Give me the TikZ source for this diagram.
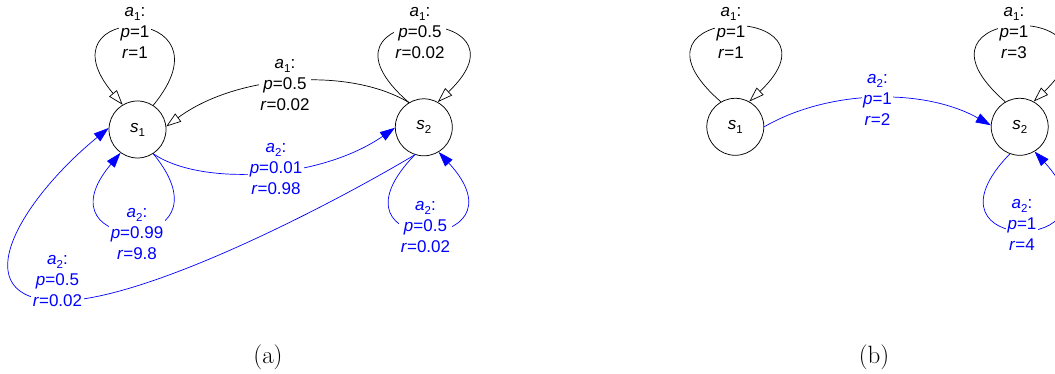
\documentclass[tikz,border=0pt]{standalone}
\usepackage{fontspec}
\newfontfamily\arialf{Liberation Sans}
\usetikzlibrary{arrows.meta}
\newcommand\mysub[1]{\raisebox{-4pt}{\fontsize{11.5}{12}\selectfont #1}}
\begin{document}
\begin{tikzpicture}[x=1pt,y=-1pt,
  state/.style={circle,draw=black,line width=0.75pt,minimum size=57pt,inner sep=0pt,font=\arialf\fontsize{17}{20}\selectfont},
  lab/.style={fill=white,inner sep=1.5pt,align=center,font=\arialf\fontsize{17}{21}\selectfont},
  blab/.style={lab,text=blue},
  aone/.style={draw=black,line width=0.7pt,-{Triangle[fill=white,length=15pt,width=10pt]}},
  atwo/.style={draw=blue,line width=0.7pt,-{Triangle[fill=blue,length=15pt,width=10pt]}},
  captext/.style={font=\fontsize{25}{30}\selectfont}]
\useasboundingbox (0,0) rectangle (1055,374);
\clip (0,0) rectangle (1055,374);
% states
\node[state] (s1a) at (137.5,129.5) {\textit{s}\mysub{1}};
\node[state] (s2a) at (423.8,127.3) {\textit{s}\mysub{2}};
\node[state] (s1b) at (735.3,126.8) {\textit{s}\mysub{1}};
\node[state] (s2b) at (1019.7,126.8) {\textit{s}\mysub{2}};
% (a) edges
\draw[aone] (s1a.57) .. controls +(85,-103) and +(-87,-103) .. (s1a.121);
\draw[aone] (s2a.121) .. controls +(-115,-100) and +(105,-100) .. (s2a.61);
\draw[aone] (s2a.121) .. controls +(-60,-36) and +(70,-52) .. (s1a.6);
\draw[atwo] (s1a.-57) .. controls +(48,33) and +(-75,52) .. (s2a.181);
\draw[atwo] (s1a.-57) .. controls +(85,103) and +(-87,103) .. (s1a.-126);
\draw[atwo] (s2a.-108) .. controls +(-100,103) and +(95,103) .. (s2a.-59);
\coordinate (m) at (60,301);
\draw[atwo] (s2a.-108) .. controls +(-75,45) and +(90,-1) .. (m) .. controls +(-100,-1) and +(-88,72) .. (s1a.177);
% (b) edges
\draw[aone] (s1b.120) .. controls +(-115,-100) and +(105,-100) .. (s1b.61);
\draw[aone] (s2b.120) .. controls +(-115,-100) and +(105,-100) .. (s2b.61);
\draw[atwo] (s1b.0) .. controls +(66,-38) and +(-66,-37) .. (s2b.177);
\draw[atwo] (s2b.-110) .. controls +(-100,103) and +(95,103) .. (s2b.-59);
% labels
\node[lab] (l1) at (135,32.6) {\textit{a}\mysub{1}:\\\textit{p}=1\\\textit{r}=1};
\node[lab] (l2) at (420,32.6) {\textit{a}\mysub{1}:\\\textit{p}=0.5\\\textit{r}=0.02};
\node[lab] (l3) at (285,84.6) {\textit{a}\mysub{1}:\\\textit{p}=0.5\\\textit{r}=0.02};
\node[blab] (l4) at (276,168.6) {\textit{a}\mysub{2}:\\\textit{p}=0.01\\\textit{r}=0.98};
\node[blab] (l5) at (137,233.6) {\textit{a}\mysub{2}:\\\textit{p}=0.99\\\textit{r}=9.8};
\node[blab] (l6) at (425.5,226.6) {\textit{a}\mysub{2}:\\\textit{p}=0.5\\\textit{r}=0.02};
\node[blab] (l7) at (57.5,280.6) {\textit{a}\mysub{2}:\\\textit{p}=0.5\\\textit{r}=0.02};
\node[lab] (l8) at (731,32.6) {\textit{a}\mysub{1}:\\\textit{p}=1\\\textit{r}=1};
\node[lab] (l9) at (1014,32.6) {\textit{a}\mysub{1}:\\\textit{p}=1\\\textit{r}=3};
\node[blab] (l10) at (877.5,99.6) {\textit{a}\mysub{2}:\\\textit{p}=1\\\textit{r}=2};
\node[blab] (l11) at (1022,224.6) {\textit{a}\mysub{2}:\\\textit{p}=1\\\textit{r}=4};
% captions
\node[captext] (capa) at (268,357.5) {(a)};
\node[captext] (capb) at (874,357.5) {(b)};
\end{tikzpicture}
\end{document}
